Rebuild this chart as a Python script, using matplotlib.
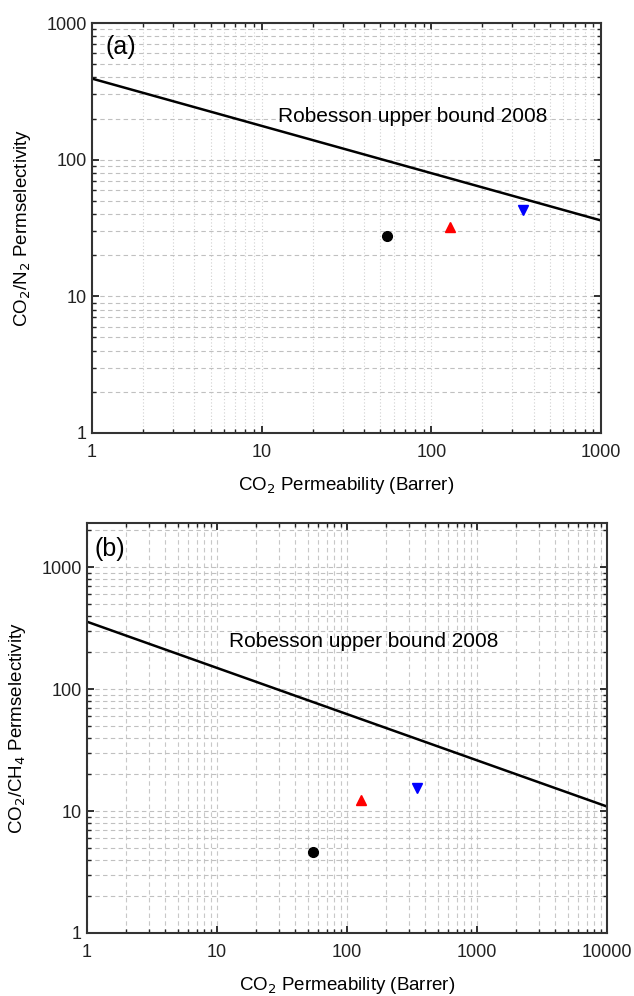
import matplotlib
matplotlib.use("Agg")
import matplotlib.pyplot as plt
from matplotlib.ticker import LogLocator, NullFormatter, FixedLocator, FixedFormatter

plt.rcParams['font.family'] = ['Liberation Sans', 'DejaVu Sans']

# Robeson upper bound 2008, end points of the line
bound_n2_x = [1, 1000]
bound_n2_y = [392, 35.9]
bound_ch4_x = [1, 10000]
bound_ch4_y = [357, 10.9]

# membrane samples: CO2 permeability and selectivities
perm = [55, 128, 347]
sel_n2 = [27.7, 32.2, 43.1]
sel_ch4 = [4.6, 12.2, 15.5]
marks = ['o', '^', 'v']
colors = ['black', 'red', 'blue']

fig = plt.figure(figsize=(6.34, 9.96), dpi=100)
ax1 = fig.add_axes([0.145, 0.5653, 0.803, 0.4116])
ax2 = fig.add_axes([0.137, 0.0633, 0.820, 0.4116])


def style(ax, xticks, yticks, xlim, ylim, vstyle):
    ax.set_xscale('log')
    ax.set_yscale('log')
    ax.set_xlim(*xlim)
    ax.set_ylim(*ylim)
    ax.xaxis.set_major_locator(FixedLocator(xticks))
    ax.xaxis.set_major_formatter(FixedFormatter([str(v) for v in xticks]))
    ax.yaxis.set_major_locator(FixedLocator(yticks))
    ax.yaxis.set_major_formatter(FixedFormatter([str(v) for v in yticks]))
    ax.xaxis.set_minor_locator(LogLocator(base=10, subs=range(2, 10), numticks=20))
    ax.yaxis.set_minor_locator(LogLocator(base=10, subs=range(2, 10), numticks=20))
    ax.xaxis.set_minor_formatter(NullFormatter())
    ax.yaxis.set_minor_formatter(NullFormatter())
    ax.tick_params(which='both', direction='in', top=True, right=True, labelsize=13, colors='#222222')
    ax.tick_params(which='major', length=5, width=1.3)
    ax.tick_params(which='minor', length=3, width=1.0)
    ax.tick_params(axis='x', pad=8)
    for s in ax.spines.values():
        s.set_linewidth(1.5)
        s.set_color('#333333')
    ax.grid(True, which='both', axis='y', linestyle=(0, (4, 3)), color='#c0c0c0', linewidth=0.8)
    if vstyle == 'dotted':
        ax.grid(True, which='both', axis='x', linestyle=(0, (1, 2)), color='#d0d0d0', linewidth=0.8)
    else:
        ax.grid(True, which='both', axis='x', linestyle=(0, (4, 3)), color='#c8c8c8', linewidth=0.8)
    ax.set_axisbelow(True)


style(ax1, [1, 10, 100, 1000], [1, 10, 100, 1000], (1, 1000), (1, 1000), 'dotted')
ax1.plot(bound_n2_x, bound_n2_y, color='black', linewidth=1.8)
for x, y, m, c in zip(perm, sel_n2, marks, colors):
    ax1.plot(x, y, marker=m, color=c, markersize=7, linestyle='none')
ax1.text(0.365, 0.771, 'Robesson upper bound 2008', transform=ax1.transAxes, fontsize=15, va='center', ha='left')
ax1.text(0.026, 0.941, '(a)', transform=ax1.transAxes, fontsize=18, va='center', ha='left')
ax1.set_xlabel('CO$_2$ Permeability (Barrer)', fontsize=13.5, labelpad=10)
ax1.set_ylabel('CO$_2$/N$_2$ Permselectivity', fontsize=13.5, labelpad=10)

style(ax2, [1, 10, 100, 1000, 10000], [1, 10, 100, 1000], (1, 10000), (1, 2300), 'dashed')
ax2.plot(bound_ch4_x, bound_ch4_y, color='black', linewidth=1.8)
for x, y, m, c in zip(perm, sel_ch4, marks, colors):
    ax2.plot(x, y, marker=m, color=c, markersize=7, linestyle='none')
ax2.text(0.273, 0.71, 'Robesson upper bound 2008', transform=ax2.transAxes, fontsize=15, va='center', ha='left')
ax2.text(0.015, 0.937, '(b)', transform=ax2.transAxes, fontsize=18, va='center', ha='left')
ax2.set_xlabel('CO$_2$ Permeability (Barrer)', fontsize=13.5, labelpad=10)
ax2.set_ylabel('CO$_2$/CH$_4$ Permselectivity', fontsize=13.5, labelpad=10)

fig.savefig('out.png', dpi=100)
plt.close(fig)
